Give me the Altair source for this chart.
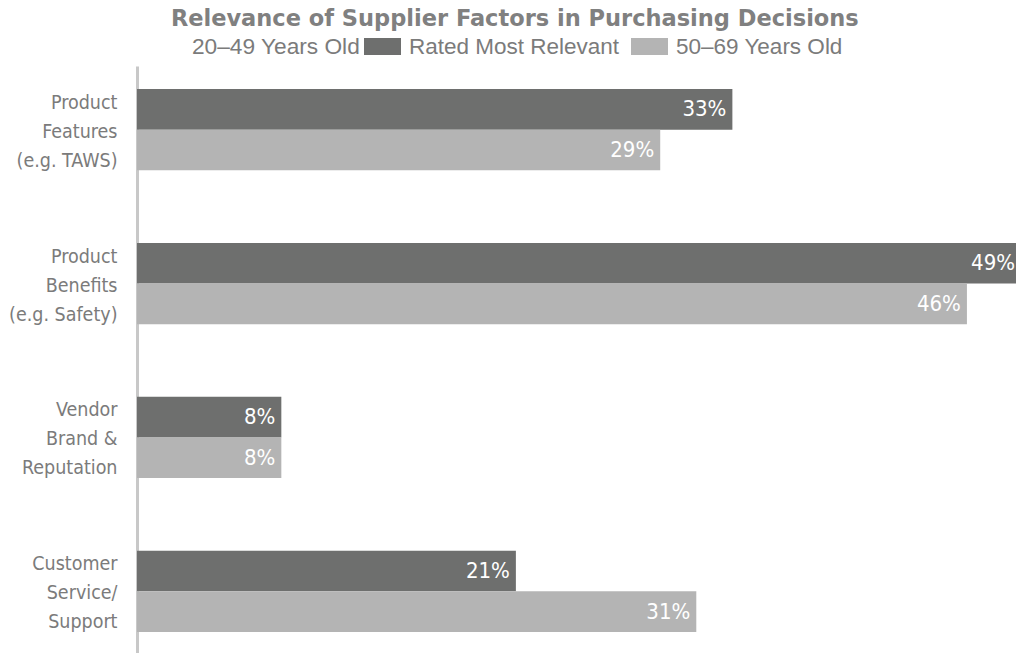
import altair as alt
import pandas as pd

categories = [
    "Product|Features|(e.g. TAWS)",
    "Product|Benefits|(e.g. Safety)",
    "Vendor|Brand &|Reputation",
    "Customer|Service/|Support",
]
groups = ["20–49 Years Old", "50–69 Years Old"]
values_20_49 = [33, 49, 8, 21]
values_50_69 = [29, 46, 8, 31]

rows = []
for c, a, b in zip(categories, values_20_49, values_50_69):
    rows.append({"category": c, "group": groups[0], "value": a})
    rows.append({"category": c, "group": groups[1], "value": b})
df = pd.DataFrame(rows)
df["label"] = df["value"].astype(str) + "%"

DARK = "#6e6f6e"
LIGHT = "#b4b4b4"
TEXT = "#7b7b7b"
NARROW = "DejaVu Sans Condensed, Roboto, sans-serif"
REG = "Liberation Sans, Helvetica, Arial, sans-serif"

y_enc = alt.Y(
    "category:N",
    sort=categories,
    scale=alt.Scale(paddingInner=0.472, paddingOuter=0.15),
    axis=alt.Axis(
        title=None,
        ticks=False,
        labelExpr="split(datum.label, '|')",
        labelFont=NARROW,
        labelFontSize=19.5,
        labelColor=TEXT,
        labelLineHeight=29,
        labelPadding=20,
        labelAlign="right",
        labelOffset=-27,
        labelLimit=200,
        domainColor="#c8c8c8",
        domainWidth=3,
        grid=False,
    ),
)
yoff = alt.YOffset("group:N", sort=groups, scale=alt.Scale(paddingInner=0, paddingOuter=0))
x_enc = alt.X("value:Q", scale=alt.Scale(domain=[0, 48.72], nice=False, zero=True), axis=None)

base = alt.Chart(df)

bars = base.mark_bar().encode(
    y=y_enc,
    yOffset=yoff,
    x=x_enc,
    color=alt.Color(
        "group:N",
        sort=groups,
        scale=alt.Scale(domain=groups, range=[DARK, LIGHT]),
        legend=alt.Legend(
            orient="none",
            legendX=55,
            legendY=-38,
            direction="horizontal",
            title="20–49 Years Old",
            titleOrient="left",
            titleFont=REG,
            titleFontSize=22.7,
            titleFontWeight="normal",
            titleColor=TEXT,
            titlePadding=3,
            titleBaseline="line-top",
            titleLineHeight=8,
            titleAnchor="middle",
            labelExpr="datum.label == '20–49 Years Old' ? 'Rated Most Relevant' : datum.label",
            labelFont=REG,
            labelFontSize=22.5,
            labelColor=TEXT,
            labelOffset=8,
            labelLimit=300,
            columnPadding=11,
            symbolType="M-1,-0.46H1V0.46H-1Z",
            symbolSize=1369,
            symbolStrokeWidth=0,
            symbolOpacity=1,
            padding=0,
        ),
    ),
)

labels = base.mark_text(
    align="right", baseline="middle", dx=-6, color="white", font=NARROW, fontSize=22
).encode(y=y_enc, yOffset=yoff, x=x_enc, text="label:N")

chart = (
    alt.layer(bars, labels)
    .properties(
        width=879,
        height=589,
        autosize=alt.AutoSizeParams(type="none"),
        padding={"left": 129, "top": 58, "right": 0, "bottom": 0},
        title=alt.Title(
            "Relevance of Supplier Factors in Purchasing Decisions",
            font="DejaVu Sans, sans-serif",
            fontSize=22.5,
            fontWeight="bold",
            color="#808080",
            anchor="middle",
            frame="bounds",
            offset=-2,
        ),
    )
    .configure_view(stroke=None)
)

chart.save("out.html", embed_options={"renderer": "svg", "actions": False})
